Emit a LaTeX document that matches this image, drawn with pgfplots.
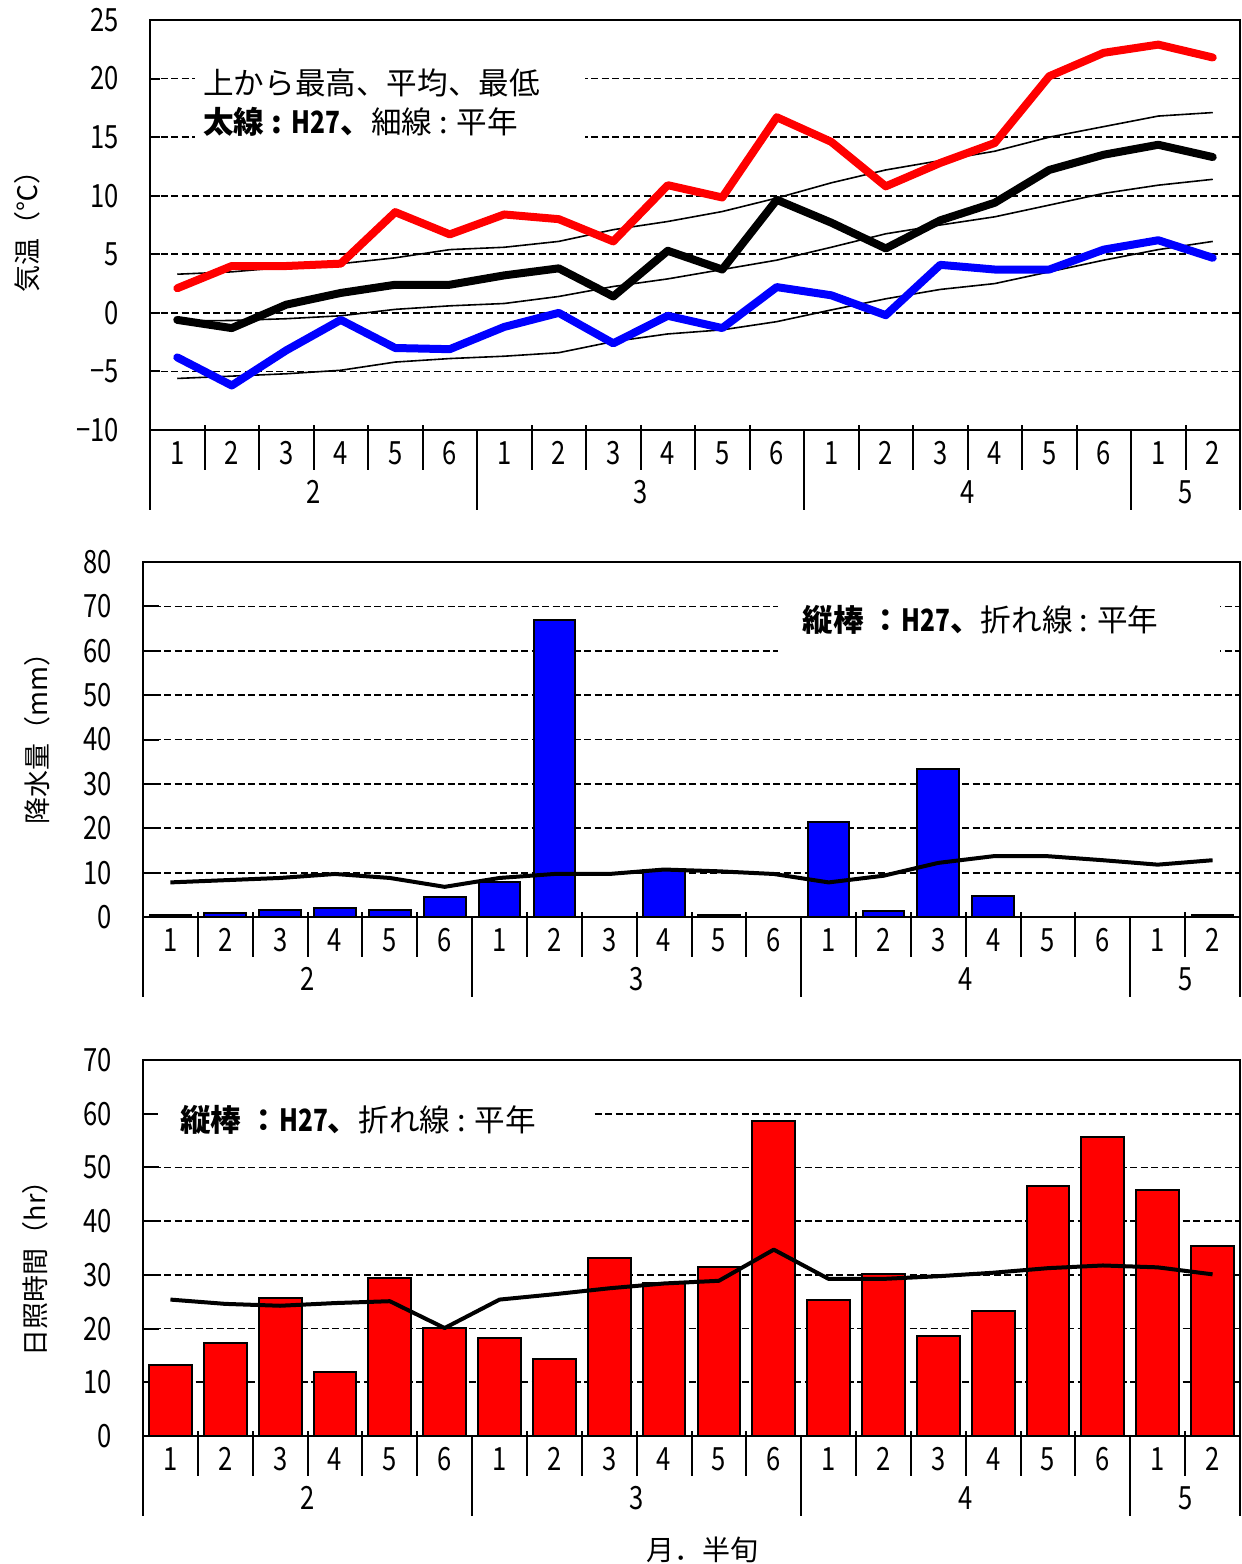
\documentclass[border=0pt]{standalone}
\usepackage{fontspec}
\setmainfont{Noto Sans CJK JP}
\newfontfamily\numfont{Noto Sans CJK JP}[FakeStretch=0.8]
\usepackage{pgfplots}
\pgfplotsset{compat=1.18}
\usepackage{pgfplotstable}

% half-decade (hanjun) values, Feb 1 .. May 2
\pgfplotstableread{
x tmax tmean tmin nmax nmean nmin
0 2.1 -0.6 -3.8 3.3 -0.7 -5.6
1 4.0 -1.3 -6.2 3.5 -0.65 -5.4
2 4.0 0.7 -3.2 3.9 -0.5 -5.2
3 4.2 1.7 -0.6 4.2 -0.25 -4.9
4 8.6 2.4 -3.0 4.7 0.3 -4.2
5 6.7 2.4 -3.1 5.4 0.6 -3.9
6 8.4 3.2 -1.2 5.6 0.8 -3.7
7 8.0 3.8 0.0 6.1 1.4 -3.4
8 6.1 1.4 -2.6 7.1 2.25 -2.45
9 10.9 5.3 -0.25 7.8 2.9 -1.8
10 9.85 3.7 -1.3 8.65 3.7 -1.45
11 16.7 9.65 2.2 9.8 4.5 -0.75
12 14.6 7.7 1.5 11.1 5.6 0.25
13 10.8 5.5 -0.2 12.2 6.75 1.2
14 12.8 7.9 4.1 13.0 7.5 2.0
15 14.5 9.4 3.7 13.8 8.2 2.5
16 20.2 12.2 3.7 15.0 9.2 3.5
17 22.2 13.5 5.4 15.9 10.2 4.5
18 22.9 14.35 6.2 16.8 10.9 5.4
19 21.8 13.3 4.7 17.1 11.4 6.1
}\tempdata

\pgfplotstableread{
x p n
0 0.4 7.8
1 1.0 8.3
2 1.5 8.8
3 2.0 9.7
4 1.5 8.8
5 4.5 6.8
6 8.0 8.8
7 67.0 9.7
8 0 9.7
9 10.5 10.7
10 0.4 10.3
11 0 9.7
12 21.4 7.8
13 1.4 9.3
14 33.4 12.2
15 4.8 13.7
16 0 13.7
17 0 12.8
18 0 11.8
19 0.4 12.8
}\raindata

\pgfplotstableread{
x s n
0 13.2 25.4
1 17.4 24.6
2 25.7 24.25
3 11.9 24.75
4 29.4 25.1
5 20.2 20.1
6 18.2 25.4
7 14.4 26.4
8 33.2 27.5
9 28.5 28.4
10 31.5 28.9
11 58.6 34.7
12 25.25 29.25
13 30.25 29.25
14 18.6 29.75
15 23.2 30.4
16 46.5 31.25
17 55.7 31.75
18 45.75 31.4
19 35.3 30.1
}\sundata

\pgfplotsset{
  panel/.style={
    scale only axis,
    clip=false,
    xmin=-0.5, xmax=19.5,
    axis line style={line width=1.2pt},
    xtick={0,...,19},
    xticklabels={1,2,3,4,5,6,1,2,3,4,5,6,1,2,3,4,5,6,1,2},
    x tick style={draw=none},
    xticklabel style={anchor=center, yshift=-11.5pt, font=\numfont\fontsize{16}{16}\selectfont},
    ytick pos=left,
    yticklabel style={font=\numfont\fontsize{16}{16}\selectfont, xshift=-12pt},
    y tick style={black, line width=1pt},
    major tick length=8pt,
    ymajorgrids,
    major grid style={dash pattern=on 3.5pt off 1.75pt, line width=0.9pt, black},
    /pgf/number format/assume math mode=true,
    ylabel style={anchor=center, font=\fontsize{13.5}{14}\selectfont},
  },
}

% separators and month row below each axis
\newcommand\monthrow{%
  \pgfplotsinvokeforeach{0.5,1.5,2.5,3.5,4.5,6.5,7.5,8.5,9.5,10.5,12.5,13.5,14.5,15.5,16.5,18.5}{%
    \coordinate (s) at ({axis cs:##1,0}|-{rel axis cs:0,0});
    \draw[line width=1pt] ([yshift=2.5pt]s) -- ([yshift=-20pt]s);}
  \pgfplotsinvokeforeach{-0.5,5.5,11.5,17.5,19.5}{%
    \coordinate (m) at ({axis cs:##1,0}|-{rel axis cs:0,0});
    \draw[line width=1pt] (m) -- ([yshift=-40pt]m);}
  \node[font=\numfont\fontsize{16}{16}\selectfont, yshift=-31pt] at ({axis cs:2.5,0}|-{rel axis cs:0,0}) {2};
  \node[font=\numfont\fontsize{16}{16}\selectfont, yshift=-31pt] at ({axis cs:8.5,0}|-{rel axis cs:0,0}) {3};
  \node[font=\numfont\fontsize{16}{16}\selectfont, yshift=-31pt] at ({axis cs:14.5,0}|-{rel axis cs:0,0}) {4};
  \node[font=\numfont\fontsize{16}{16}\selectfont, yshift=-31pt] at ({axis cs:18.5,0}|-{rel axis cs:0,0}) {5};
}

\begin{document}
\begin{tikzpicture}[x=1pt,y=1pt]
\useasboundingbox (0,0) rectangle (621,-782);

% ---- temperature
\begin{axis}[panel,
    at={(75pt,-215pt)}, anchor=south west,
    width=545pt, height=205pt,
    ymin=-10, ymax=25,
    ytick={-10,-5,...,25},
    yticklabels={−10,−5,0,5,10,15,20,25},
    major tick length=5pt,
    ylabel={気温（℃）},
    ylabel style={at={(axis description cs:-0.113,0.5)}},
]
\addplot[black, line width=0.8pt] table[x=x,y=nmax] {\tempdata};
\addplot[black, line width=0.8pt] table[x=x,y=nmean] {\tempdata};
\addplot[black, line width=0.8pt] table[x=x,y=nmin] {\tempdata};
\addplot[red, line width=4pt, line cap=round, line join=round] table[x=x,y=tmax] {\tempdata};
\addplot[black, line width=4pt, line cap=round, line join=round] table[x=x,y=tmean] {\tempdata};
\addplot[blue, line width=4pt, line cap=round, line join=round] table[x=x,y=tmin] {\tempdata};
\fill[white] (rel axis cs:0.0413,0.8976) rectangle (rel axis cs:0.3991,0.6829);
\node[anchor=base west, inner sep=0pt, font=\fontsize{15.3}{16}\selectfont] at (rel axis cs:0.0486,0.8195) {上から最高、平均、最低};
\node[anchor=base west, inner sep=0pt, font=\fontsize{15.3}{16}\selectfont] at (rel axis cs:0.0486,0.7244) {\textbf{太線 : {\numfont H27}、}細線 : 平年};
\monthrow
\end{axis}

% ---- precipitation
\begin{axis}[panel,
    at={(71.5pt,-458.5pt)}, anchor=south west,
    width=548.5pt, height=177.5pt,
    ymin=0, ymax=80,
    ytick={0,10,...,80},
    ylabel={降水量（mm）},
    ylabel style={at={(axis description cs:-0.0966,0.521)}},
]
\addplot[ybar, bar width=0.76, fill=blue, draw=black, line width=1pt] table[x=x,y=p] {\raindata};
\addplot[black, line width=2pt, line join=round] table[x=x,y=n] {\raindata};
\fill[white] (rel axis cs:0.579,0.907) rectangle (rel axis cs:0.982,0.724);
\node[anchor=base west, inner sep=0pt, font=\fontsize{15.3}{16}\selectfont] at (rel axis cs:0.601,0.803) {\textbf{縦棒 ：{\numfont H27}、}折れ線 : 平年};
\monthrow
\end{axis}

% ---- sunshine
\begin{axis}[panel,
    at={(71.5pt,-718pt)}, anchor=south west,
    width=548.5pt, height=188pt,
    ymin=0, ymax=70,
    ytick={0,10,...,70},
    ylabel={日照時間（hr）},
    ylabel style={at={(axis description cs:-0.0985,0.463)}},
    xlabel={月．半旬},
    xlabel style={at={(axis description cs:0.51,-0.303)}, anchor=center, font=\fontsize{14}{14}\selectfont},
]
\addplot[ybar, bar width=0.78, fill=red, draw=black, line width=1pt] table[x=x,y=s] {\sundata};
\addplot[black, line width=2pt, line join=round] table[x=x,y=n] {\sundata};
\fill[white] (rel axis cs:0.0137,0.92) rectangle (rel axis cs:0.409,0.774);
\node[anchor=base west, inner sep=0pt, font=\fontsize{15.3}{16}\selectfont] at (rel axis cs:0.0337,0.811) {\textbf{縦棒 ：{\numfont H27}、}折れ線 : 平年};
\monthrow
\end{axis}
\end{tikzpicture}
\end{document}
